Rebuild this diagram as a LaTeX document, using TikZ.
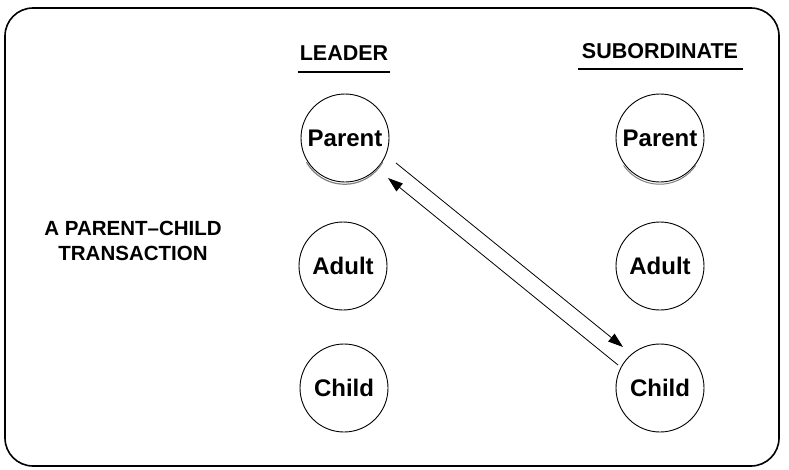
\documentclass[tikz,border=0pt]{standalone}
\usepackage{fontspec}
\setmainfont{Liberation Sans}
\usetikzlibrary{arrows.meta,calc}
\begin{document}
\begin{tikzpicture}[x=1pt,y=-1pt,
  ego/.style={circle,draw,line width=0.9pt,minimum size=88pt,inner sep=0pt,
    font=\fontsize{24}{26}\selectfont\bfseries},
  header/.style={font=\fontsize{21.5}{24}\selectfont\bfseries},
  caption/.style={anchor=base,inner sep=0pt,font=\fontsize{20.5}{24}\selectfont\bfseries},
  rule/.style={line width=1.1pt},
  flow/.style={line width=0.8pt,-{Triangle[length=15pt,width=10pt]}}]
\useasboundingbox (0,0) rectangle (789,469);
% outer frame
\draw[line width=1.6pt,rounded corners=28pt] (5,8) rectangle (779,466);

% column headers
\node[header] (hl) at (344,53) {LEADER};
\draw[rule] (298,72) -- (390,72);
\node[header] (hs) at (660,51) {SUBORDINATE};
\draw[rule] (578,69) -- (743,69);

% side label
\node[caption] (lbl1) at (133,235) {A PARENT--CHILD};
\node[caption] (lbl2) at (133,260) {TRANSACTION};

% ego states
\node[ego] (lp) at (345,138) {Parent};
\node[ego] (la) at (343,266) {Adult};
\node[ego] (lc) at (344,388) {Child};
\node[ego] (sp) at (660,138) {Parent};
\node[ego] (sa) at (660,266) {Adult};
\node[ego] (sc) at (660,388) {Child};

% worn lower rims of the parent circles
\draw[gray,line width=1.2pt] ([shift={(0,2)}]lp.210) arc[start angle=210,end angle=330,radius=44pt];
\draw[gray,line width=1pt] ([shift={(0,2)}]sp.215) arc[start angle=215,end angle=325,radius=44pt];

% transaction
\draw[flow] ($(lp)+(51,25)$) -- ($(sc)+(-37,-41)$);
\draw[flow] ($(sc)+(-42,-23)$) -- ($(lp)+(43,40)$);
\end{tikzpicture}
\end{document}
